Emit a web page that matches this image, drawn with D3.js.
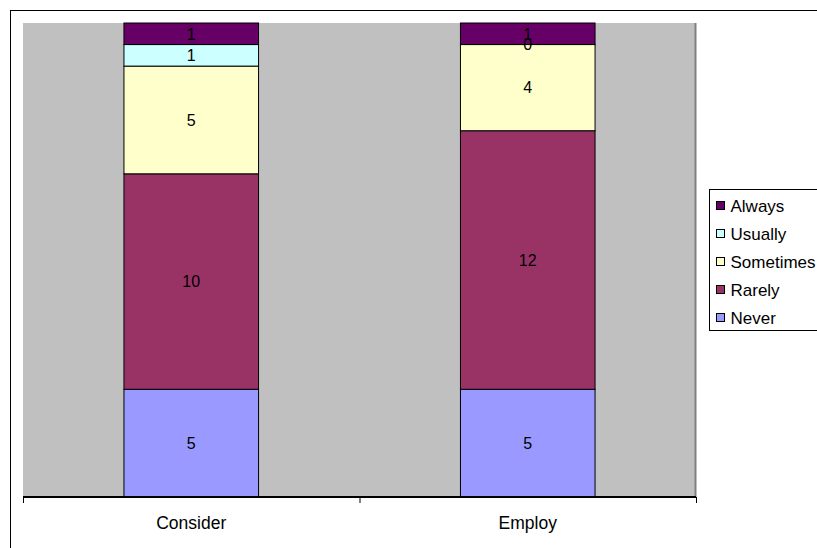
<!DOCTYPE html>
<html lang="en">
<head>
<meta charset="UTF-8">
<title>Consider / Employ</title>
<script src="https://d3js.org/d3.v7.min.js"></script>
<style>
  body { margin: 0; background: #fff; overflow: hidden; }
  svg { display: block; font-family: "Liberation Sans", Arial, sans-serif; }
</style>
</head>
<body>
<script>
const categories = ["Consider", "Employ"];
const seriesNames = ["Never", "Rarely", "Sometimes", "Usually", "Always"];
const never = [5, 5];
const rarely = [10, 12];
const sometimes = [5, 4];
const usually = [1, 0];
const always = [1, 1];
const colors = ["#9999FF", "#993366", "#FFFFCC", "#CCFFFF", "#660066"];

const seriesValues = [never, rarely, sometimes, usually, always];
const rows = categories.map((c, i) => {
  const r = { cat: c };
  seriesNames.forEach((s, j) => r[s] = seriesValues[j][i]);
  return r;
});

const W = 817, H = 548;
const plot = { left: 23, top: 23, right: 696, bottom: 497 };

const svg = d3.select("body").append("svg")
  .attr("width", W).attr("height", H);

// outer chart border
svg.append("rect")
  .attr("x", 10.5).attr("y", 10.5)
  .attr("width", 830).attr("height", 560)
  .attr("fill", "none").attr("stroke", "#000").attr("stroke-width", 1);

// plot area
svg.append("rect")
  .attr("x", plot.left).attr("y", plot.top)
  .attr("width", plot.right - plot.left).attr("height", plot.bottom - plot.top)
  .attr("fill", "#C0C0C0");
svg.append("line")
  .attr("x1", plot.right - 0.5).attr("x2", plot.right - 0.5)
  .attr("y1", plot.top).attr("y2", plot.bottom)
  .attr("stroke", "#808080").attr("stroke-width", 2);

const stack = d3.stack().keys(seriesNames)(rows);
const total = d3.max(rows, r => d3.sum(seriesNames, s => r[s]));

const x = d3.scaleBand().domain(categories)
  .range([plot.left, plot.right]).paddingInner(0.6).paddingOuter(0.3);
const y = d3.scaleLinear().domain([0, total]).range([plot.bottom, plot.top]);

const layers = svg.append("g").selectAll("g")
  .data(stack).join("g")
  .attr("fill", (d, i) => colors[i]);

layers.selectAll("rect")
  .data(d => d).join("rect")
  .attr("x", d => x(d.data.cat))
  .attr("width", x.bandwidth())
  .attr("y", d => y(d[1]))
  .attr("height", d => y(d[0]) - y(d[1]))
  .attr("stroke", "#000").attr("stroke-width", 1);

// data labels
const labels = svg.append("g")
  .attr("font-size", 16).attr("fill", "#000").attr("text-anchor", "middle");
stack.forEach(layer => {
  layer.forEach(d => {
    labels.append("text")
      .attr("x", x(d.data.cat) + x.bandwidth() / 2)
      .attr("y", (y(d[0]) + y(d[1])) / 2)
      .attr("dy", "0.36em")
      .text(d[1] - d[0]);
  });
});

// category axis
const axis = svg.append("g").attr("transform", `translate(0,${plot.bottom})`);
axis.append("line")
  .attr("x1", plot.left).attr("x2", plot.right)
  .attr("stroke", "#000").attr("stroke-width", 2);
const step = (plot.right - plot.left) / categories.length;
d3.range(categories.length + 1).forEach(i => {
  axis.append("line")
    .attr("x1", plot.left + i * step + 0.5).attr("x2", plot.left + i * step + 0.5)
    .attr("y1", 0).attr("y2", 6)
    .attr("stroke", "#000");
});
axis.selectAll("text.cat")
  .data(categories).join("text")
  .attr("class", "cat")
  .attr("x", d => x(d) + x.bandwidth() / 2)
  .attr("y", 26)
  .attr("dy", "0.36em")
  .attr("text-anchor", "middle")
  .attr("font-size", 17.5)
  .text(d => d);

// legend
const legend = svg.append("g").attr("transform", "translate(709.5,189.5)");
legend.append("rect")
  .attr("width", 120).attr("height", 141)
  .attr("fill", "#fff").attr("stroke", "#000");
const legendItems = seriesNames.map((s, i) => ({ name: s, color: colors[i] })).reverse();
const li = legend.selectAll("g.item")
  .data(legendItems).join("g")
  .attr("class", "item")
  .attr("transform", (d, i) => `translate(7,${16 + i * 28})`);
li.append("rect")
  .attr("x", 0).attr("y", -4)
  .attr("width", 8).attr("height", 8)
  .attr("fill", d => d.color).attr("stroke", "#000");
li.append("text")
  .attr("x", 14).attr("dy", "0.36em")
  .attr("font-size", 17)
  .text(d => d.name);
</script>
</body>
</html>
